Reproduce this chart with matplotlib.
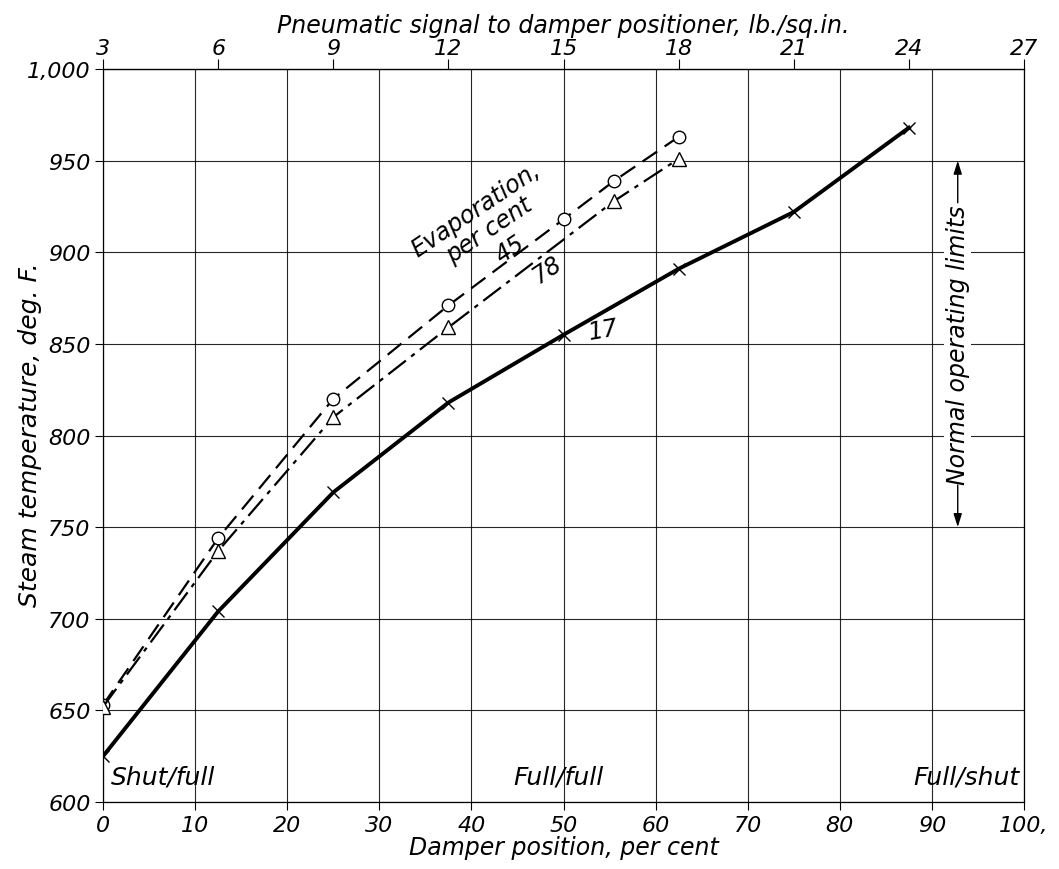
import matplotlib
matplotlib.use('Agg')
import matplotlib.pyplot as plt
import numpy as np

# damper position (per cent) and steam temperature (deg F)
x_17 = [0, 12.5, 25, 37.5, 50, 62.5, 75, 87.5]
y_17 = [625, 704, 769, 818, 855, 891, 922, 968]

x_45 = [0, 12.5, 25, 37.5, 50, 55.5, 62.5]
y_45 = [653, 744, 820, 871, 918, 939, 963]

x_78 = [0, 12.5, 25, 37.5, 55.5, 62.5]
y_78 = [652, 737, 810, 859, 928, 951]

bottom_ticks = [0, 10, 20, 30, 40, 50, 60, 70, 80, 90, 100]
bottom_labels = ['0', '10', '20', '30', '40', '50', '60', '70', '80', '90', '100,']
left_ticks = [600, 650, 700, 750, 800, 850, 900, 950, 1000]
left_labels = ['600', '650', '700', '750', '800', '850', '900', '950', '1,000']
top_ticks = [3, 6, 9, 12, 15, 18, 21, 24, 27]

plt.rcParams['font.family'] = 'DejaVu Sans'
plt.rcParams['font.style'] = 'italic'

fig = plt.figure(figsize=(10.59, 8.70), dpi=100)
ax = fig.add_axes([0.0973, 0.077, 0.8697, 0.8425])

ax.set_xlim(0, 100)
ax.set_ylim(600, 1000)

# grid
ax.set_xticks(bottom_ticks)
ax.set_xticklabels(bottom_labels, fontsize=16)
ax.set_yticks(left_ticks)
ax.set_yticklabels(left_labels, fontsize=16)
ax.grid(True, color='black', lw=0.8, alpha=0.85)
ax.tick_params(direction='out', length=6, width=0.8, pad=3)
for s in ax.spines.values():
	s.set_linewidth(0.9)

# curves
ax.plot(x_17, y_17, color='black', lw=2.8, marker='x', ms=9, mew=1.0, zorder=3)
ax.plot(x_45, y_45, color='black', lw=1.6, ls=(0, (8, 4)), marker='o', ms=9,
		mfc='white', mew=1.0, zorder=3)
ax.plot(x_78, y_78, color='black', lw=1.6, ls=(0, (10, 3, 2, 3)), marker='^', ms=10,
		mfc='white', mew=1.0, zorder=3)

# top axis: pneumatic signal
top = ax.secondary_xaxis('top', functions=(lambda d: 3 + 0.24 * d, lambda s: (s - 3) / 0.24))
top.set_xticks(top_ticks)
top.set_xticklabels([str(t) for t in top_ticks], fontsize=16)
top.tick_params(direction='out', length=7, width=0.8, pad=1)
top.set_xlabel('Pneumatic signal to damper positioner, lb./sq.in.', fontsize=17, labelpad=4)

ax.set_xlabel('Damper position, per cent', fontsize=17, labelpad=0)
# y label placed by hand so it is not cut off at the left edge
fig.text(30 / 1059, 0.5, 'Steam temperature, deg. F.', fontsize=18, rotation=90,
		 ha='center', va='center')

# annotations
ax.text(0.8, 614, 'Shut/full', fontsize=18, ha='left', va='center')
ax.text(49.5, 614, 'Full/full', fontsize=18, ha='center', va='center')
ax.text(99.5, 614, 'Full/shut', fontsize=18, ha='right', va='center')

ax.text(41.2, 918, 'Evaporation,\nper cent', fontsize=17, rotation=34,
		ha='center', va='center', multialignment='center', linespacing=1.0)
ax.text(44.2, 902, '45', fontsize=17, rotation=34, ha='center', va='center')
ax.text(48.2, 891, '78', fontsize=17, rotation=34, ha='center', va='center')
ax.text(54.3, 858, '17', fontsize=17, rotation=10, ha='center', va='center')

# normal operating limits
ax.text(92.8, 850, 'Normal operating limits', fontsize=17, rotation=90,
		ha='center', va='center', bbox=dict(fc='white', ec='none', pad=1))
ax.annotate('', xy=(92.8, 950), xytext=(92.8, 927),
			arrowprops=dict(arrowstyle='-|>,head_width=0.25,head_length=0.8',
							color='black', lw=1.0, shrinkA=0, shrinkB=0))
ax.annotate('', xy=(92.8, 750), xytext=(92.8, 773),
			arrowprops=dict(arrowstyle='-|>,head_width=0.25,head_length=0.8',
							color='black', lw=1.0, shrinkA=0, shrinkB=0))

fig.savefig('out.png', dpi=100)
